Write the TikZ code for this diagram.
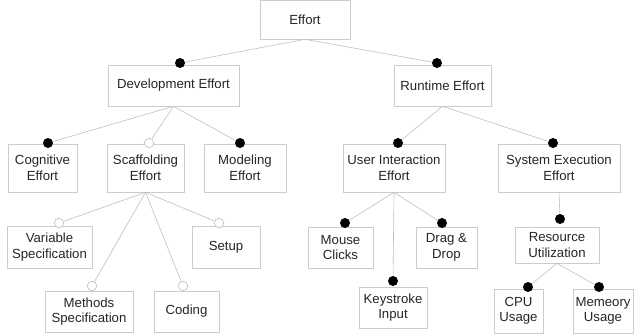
\documentclass[tikz,border=0pt]{standalone}
\usepackage{fontspec}
\setmainfont{Liberation Sans}
\usepackage{tikz}

\begin{document}
\begin{tikzpicture}[x=1pt,y=-1pt,
  box/.style={draw=gray!40, line width=0.6pt, fill=white, align=center, inner sep=1pt,
    font=\fontsize{13.2}{15.5}\selectfont, text=black!85},
  fdot/.style={circle, fill=black, inner sep=0pt, minimum size=10pt},
  odot/.style={circle, draw=gray!50, line width=0.6pt, fill=white, inner sep=0pt, minimum size=9.5pt},
  conn/.style={draw=gray!50, line width=0.6pt}]
%\draw[step=10pt,gray,very thin] (0,0) grid (636,334);
\useasboundingbox (0,0) rectangle (636,334);

\node[box, minimum width=90pt, minimum height=39pt] (effort) at (305,19.5) {Effort};

\node[box, minimum width=131pt, minimum height=41pt] (dev) at (173.5,85.5) {Development Effort};
\node[box, minimum width=97pt, minimum height=41pt] (run) at (442.5,85.5) {Runtime Effort};

\node[box, minimum width=69pt, minimum height=48pt] (cog) at (42.5,168) {Cognitive\\Effort};
\node[box, minimum width=77pt, minimum height=48pt] (scaf) at (145.5,168) {Scaffolding\\Effort};
\node[box, minimum width=82pt, minimum height=48pt] (model) at (245,168) {Modeling\\Effort};
\node[box, minimum width=102pt, minimum height=48pt] (uie) at (394,168) {User Interaction\\Effort};
\node[box, minimum width=122pt, minimum height=48pt] (see) at (559,168) {System Execution\\Effort};

\node[box, minimum width=85pt, minimum height=42pt] (var) at (49.5,247) {Variable\\Specification};
\node[box, minimum width=68pt, minimum height=42pt] (setup) at (226,247) {Setup};
\node[box, minimum width=88pt, minimum height=41pt] (meth) at (89,311.5) {Methods\\Specification};
\node[box, minimum width=65pt, minimum height=41pt] (cod) at (186.5,311.5) {Coding};

\node[box, minimum width=65pt, minimum height=41pt] (mouse) at (340.5,247.5) {Mouse\\Clicks};
\node[box, minimum width=61pt, minimum height=41pt] (drag) at (446.5,247.5) {Drag \&\\Drop};
\node[box, minimum width=68pt, minimum height=41pt] (key) at (393,307.5) {Keystroke\\Input};

\node[box, minimum width=84pt, minimum height=36pt] (res) at (557,245) {Resource\\Utilization};
\node[box, minimum width=49pt, minimum height=44pt] (cpu) at (518.5,311) {CPU\\Usage};
\node[box, minimum width=60pt, minimum height=44pt] (mem) at (603,311) {Memeory\\Usage};

% feature markers
\node[fdot] (dDev) at (180,63) {};
\node[fdot] (dRun) at (437,63) {};
\node[fdot] (dCog) at (48,143) {};
\node[odot] (dScaf) at (149,143) {};
\node[fdot] (dModel) at (240,143) {};
\node[fdot] (dUie) at (398,143) {};
\node[fdot] (dSee) at (553,143) {};
\node[odot] (dVar) at (59,223) {};
\node[odot] (dSetup) at (219,223) {};
\node[odot] (dMeth) at (92,286) {};
\node[odot] (dCod) at (183,286) {};
\node[fdot] (dMouse) at (345,223) {};
\node[fdot] (dDrag) at (442,223) {};
\node[fdot] (dKey) at (393,281) {};
\node[fdot] (dRes) at (560,219) {};
\node[fdot] (dCpu) at (528,287) {};
\node[fdot] (dMem) at (599,287) {};

\draw[conn] (effort.south) -- (dDev);
\draw[conn] (effort.south) -- (dRun);

\draw[conn] (dev.south) -- (dCog);
\draw[conn] (dev.south) -- (dScaf);
\draw[conn] (dev.south) -- (dModel);

\draw[conn] (run.south) -- (dUie);
\draw[conn] (run.south) -- (dSee);

\draw[conn] (scaf.south) -- (dVar);
\draw[conn] (scaf.south) -- (dSetup);
\draw[conn] (scaf.south) -- (dMeth);
\draw[conn] (scaf.south) -- (dCod);

\draw[conn] (uie.south) -- (dMouse);
\draw[conn] (uie.south) -- (dDrag);
\draw[conn] (uie.south) -- (dKey);

\draw[conn] (see.south) -- (dRes);
\draw[conn] (res.south) -- (dCpu);
\draw[conn] (res.south) -- (dMem);

\end{tikzpicture}
\end{document}
